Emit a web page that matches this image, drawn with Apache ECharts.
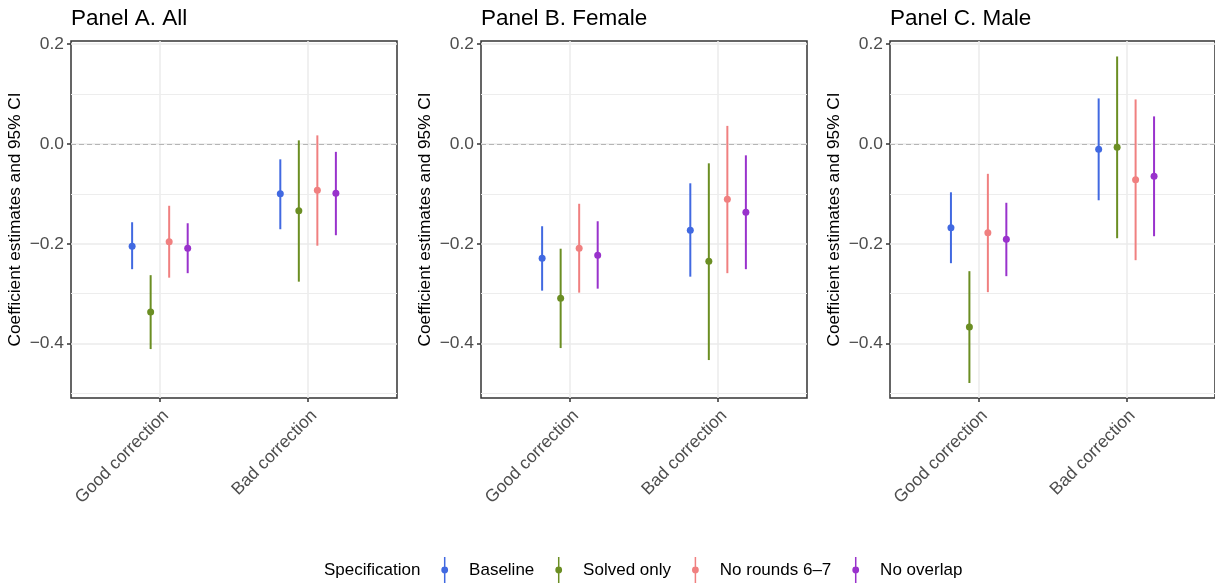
<!DOCTYPE html>
<html>
<head>
<meta charset="utf-8">
<script src="https://cdn.jsdelivr.net/npm/echarts@6/dist/echarts.min.js"></script>
<style>html,body{margin:0;padding:0;background:#fff;}#chart{width:1215px;height:583px;}</style>
</head>
<body>
<div id="chart"></div>
<script>
// ---------- data ----------
const categories = ['Good correction', 'Bad correction'];
const specifications = ['Baseline', 'Solved only', 'No rounds 6\u20137', 'No overlap'];
const specColors = ['#4169E1', '#6B8E23', '#F08080', '#9932CC'];
const panelTitles = ['Panel A. All', 'Panel B. Female', 'Panel C. Male'];
const yTickValues = [-0.4, -0.2, 0, 0.2];
const yMinorValues = [-0.5, -0.3, -0.1, 0.1];
const yAxisTitle = 'Coefficient estimates and 95% CI';
const legendTitle = 'Specification';

// [estimate, lower, upper] for [Good correction, Bad correction]
const allBaseline   = [[-0.205, -0.251, -0.157], [-0.100, -0.171, -0.031]];
const allSolved     = [[-0.337, -0.411, -0.263], [-0.134, -0.276,  0.007]];
const allNoRounds   = [[-0.196, -0.268, -0.124], [-0.093, -0.204,  0.017]];
const allNoOverlap  = [[-0.209, -0.259, -0.159], [-0.099, -0.183, -0.016]];

const femBaseline   = [[-0.229, -0.294, -0.165], [-0.173, -0.266, -0.079]];
const femSolved     = [[-0.309, -0.409, -0.210], [-0.235, -0.433, -0.039]];
const femNoRounds   = [[-0.209, -0.298, -0.120], [-0.111, -0.259,  0.036]];
const femNoOverlap  = [[-0.223, -0.290, -0.155], [-0.137, -0.251, -0.023]];

const maleBaseline  = [[-0.168, -0.239, -0.097], [-0.011, -0.113,  0.091]];
const maleSolved    = [[-0.367, -0.479, -0.255], [-0.007, -0.189,  0.175]];
const maleNoRounds  = [[-0.178, -0.297, -0.060], [-0.072, -0.233,  0.089]];
const maleNoOverlap = [[-0.191, -0.265, -0.118], [-0.065, -0.185,  0.055]];

const panels = [
  [allBaseline, allSolved, allNoRounds, allNoOverlap],
  [femBaseline, femSolved, femNoRounds, femNoOverlap],
  [maleBaseline, maleSolved, maleNoRounds, maleNoOverlap]
];

// ---------- layout ----------
const gridLefts = [71, 481, 890];
const gridWidths = [326, 326, 328];
const gridTop = 41, gridHeight = 357;
const yMin = -0.509, yMax = 0.206;
const dodgeWidth = 0.5;
const FS = 17.4;
const FONT = 'Liberation Sans, Arial, Helvetica, sans-serif';

function fmtTick(v) {
  return (v < 0 ? '\u2212' : '') + Math.abs(v).toFixed(1);
}

function renderItem(params, api) {
  const x = api.value(0), y = api.value(1), lo = api.value(2), hi = api.value(3);
  const pLo = api.coord([x, lo]), pHi = api.coord([x, hi]), p = api.coord([x, y]);
  const color = api.visual('color');
  return {
    type: 'group',
    children: [
      { type: 'line', shape: { x1: pLo[0], y1: pLo[1], x2: pHi[0], y2: pHi[1] },
        style: { stroke: color, lineWidth: 2 } },
      { type: 'circle', shape: { cx: p[0], cy: p[1], r: 3.5 }, style: { fill: color } }
    ]
  };
}

const grids = [], xAxes = [], yAxes = [], series = [], titles = [];
panels.forEach((panel, pi) => {
  grids.push({ left: gridLefts[pi], width: gridWidths[pi], top: gridTop, height: gridHeight,
    show: true, borderColor: '#333333', borderWidth: 1.5, containLabel: false });
  xAxes.push({
    type: 'value', gridIndex: pi, min: 0.4, max: 2.6,
    axisLine: { show: false, onZero: false },
    axisTick: { show: true, length: 4, lineStyle: { color: '#333333', width: 1.5 },
      customValues: [1, 2] },
    axisLabel: { customValues: [1, 2], rotate: 45, margin: 9, fontSize: FS, fontFamily: FONT,
      color: '#4D4D4D', align: 'right', verticalAlign: 'top',
      formatter: v => categories[Math.round(v) - 1] },
    splitLine: { show: true, lineStyle: { color: '#EBEBEB', width: 1.5 } }
  });
  yAxes.push({
    type: 'value', gridIndex: pi, min: yMin, max: yMax,
    name: yAxisTitle, nameLocation: 'middle', nameRotate: 90, nameGap: 47,
    nameTextStyle: { fontSize: 17.2, fontFamily: FONT, color: '#000' },
    axisLine: { show: false, onZero: false },
    axisTick: { show: true, length: 4, lineStyle: { color: '#333333', width: 1.5 },
      customValues: yTickValues },
    axisLabel: { customValues: yTickValues, margin: 7, fontSize: FS, fontFamily: FONT,
      color: '#4D4D4D', formatter: fmtTick },
    splitLine: { show: true, lineStyle: { color: '#EBEBEB', width: 1.5 } }
  });
  titles.push({ text: panelTitles[pi], left: gridLefts[pi], top: 7.5, padding: 0,
    textStyle: { fontSize: 22.5, fontWeight: 'normal', fontFamily: FONT, color: '#000' } });

  // minor grid lines + zero reference line
  series.push({
    type: 'line', xAxisIndex: pi, yAxisIndex: pi, data: [], silent: true, z: 1,
    markLine: { silent: true, symbol: 'none', animation: false, z: 1, label: { show: false },
      data: yMinorValues.map(v => ({ yAxis: v, lineStyle: { color: '#EDEDED', width: 1, type: 'solid' } }))
        .concat([{ yAxis: 0, lineStyle: { color: '#B5B5B5', width: 1.2, type: [5, 3] } }]) }
  });

  panel.forEach((specData, si) => {
    const offset = (si - (specifications.length - 1) / 2) * dodgeWidth / specifications.length;
    series.push({
      type: 'custom', name: specifications[si], xAxisIndex: pi, yAxisIndex: pi, z: 3,
      color: specColors[si], itemStyle: { color: specColors[si] },
      renderItem: renderItem,
      encode: { x: 0, y: [1, 2, 3] },
      data: specData.map((d, ci) => [ci + 1 + offset, d[0], d[1], d[2]])
    });
  });
});

titles.push({ text: legendTitle, left: 324, top: 561.5, padding: 0,
  textStyle: { fontSize: 17, fontWeight: 'normal', fontFamily: FONT, color: '#000' } });

const keyIcon = 'path://M3.25,0 L4.75,0 L4.75,26 L3.25,26 Z M7.4,13 A3.4,3.4 0 1 1 0.6,13 A3.4,3.4 0 1 1 7.4,13 Z';

const chart = echarts.init(document.getElementById('chart'), null, { renderer: 'canvas' });
chart.setOption({
  animation: false,
  backgroundColor: '#ffffff',
  title: titles,
  grid: grids,
  xAxis: xAxes,
  yAxis: yAxes,
  legend: {
    left: 441.3, top: 557, orient: 'horizontal', padding: 0,
    itemWidth: 6.8, itemHeight: 26, itemGap: 21,
    icon: keyIcon, selectedMode: false,
    textStyle: { fontSize: 17, fontFamily: FONT, color: '#000', padding: [0, 0, 0, 16] },
    data: specifications.map(s => ({ name: s, icon: keyIcon }))
  },
  series: series
});
</script>
</body>
</html>
